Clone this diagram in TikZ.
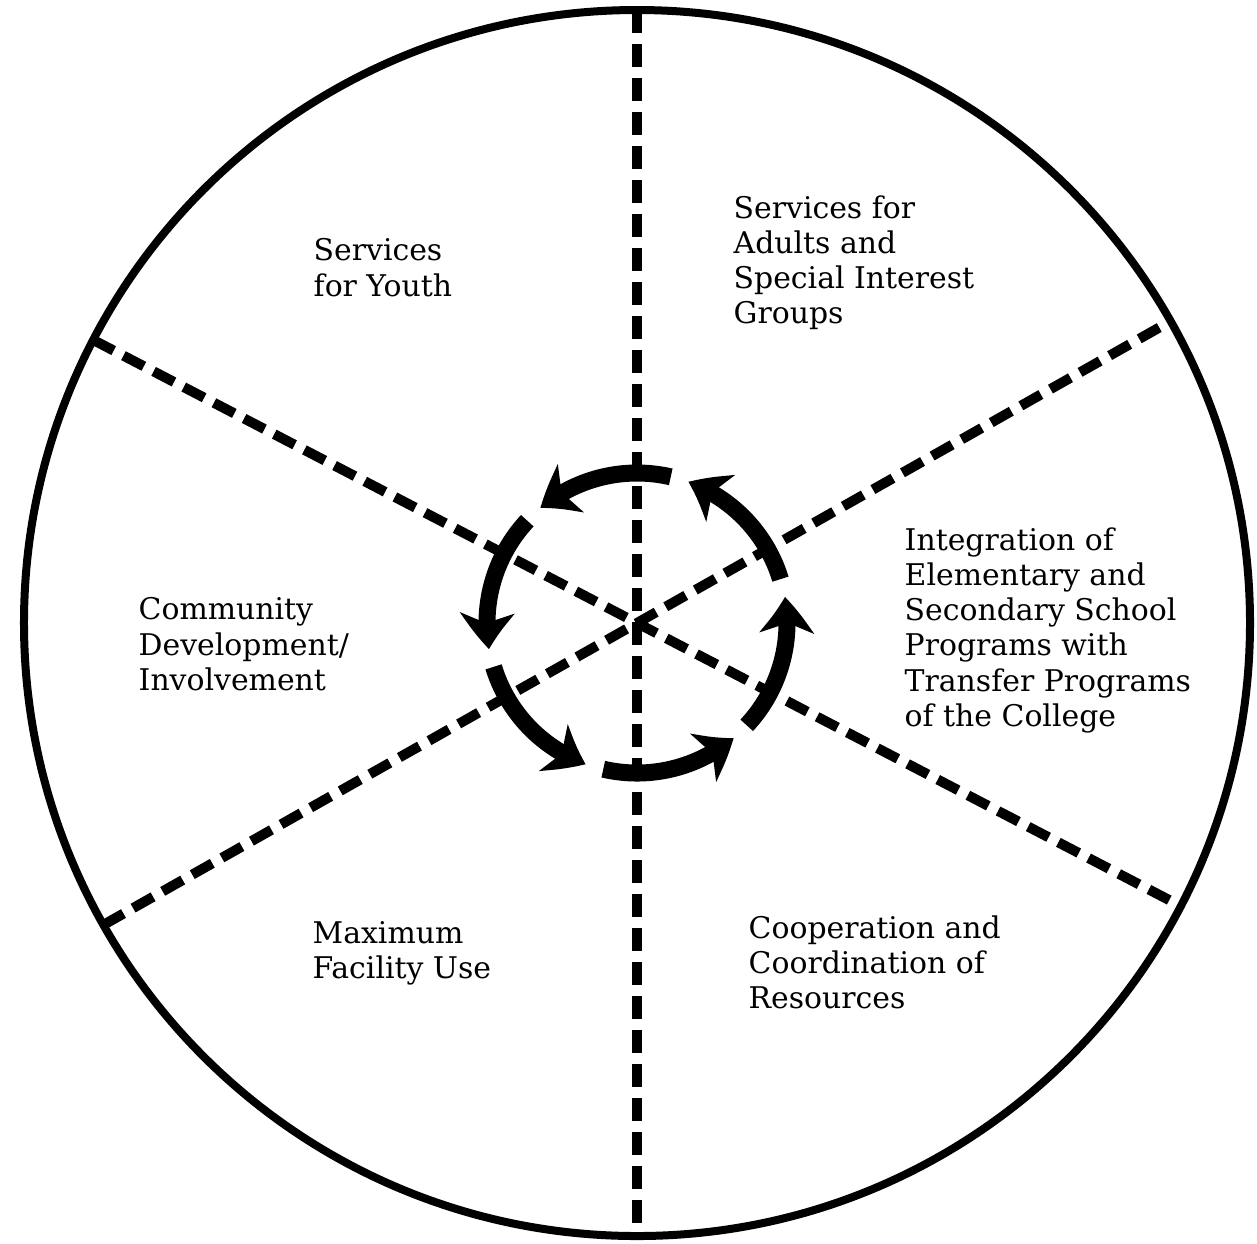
\documentclass[tikz,border=0pt]{standalone}
\usepackage{fontspec}
\setmainfont{DejaVu Serif}
\usetikzlibrary{arrows.meta,bending}

\begin{document}
\begin{tikzpicture}[x=1cm, y=1cm,
  rim/.style={line width=0.8mm},
  divider/.style={line width=1mm, dash pattern=on 2.3mm off 1.1mm},
  cyclearrow/.style={line width=1.7mm, -{Stealth[length=3.6mm,width=5.4mm,inset=1mm,bend]}},
  sector/.style={anchor=north west, align=left, inner sep=0pt,
    font=\fontsize{8.5pt}{10pt}\selectfont}]
  \useasboundingbox (-6.37,-6.20) rectangle (6.20,6.23);
  \coordinate (hub) at (0,0);
  % outer circle
  \draw[rim] (hub) circle[radius=6.13];
  % rim points for the dividers
  \foreach \a/\n in {90/top,270/bot,152.5/nw,-27.5/se,29.5/ne,209.5/sw}
    \coordinate (\n) at (\a:6.13);
  \draw[divider] (top) -- (bot);
  \draw[divider] (nw) -- (se);
  \draw[divider] (sw) -- (ne);
  % ring of arrows round the hub
  \foreach \s in {17,77,...,317}
    \draw[cyclearrow] ([shift={(\s:1.5)}]hub) arc[start angle=\s, delta angle=53, radius=1.5];
  % sector labels
  \node[sector] (youth) at (-3.24,3.85) {Services\\for Youth};
  \node[sector] (adults) at (0.96,4.28) {Services for\\Adults and\\Special Interest\\Groups};
  \node[sector] (integr) at (2.67,0.96) {Integration of\\Elementary and\\Secondary School\\Programs with\\Transfer Programs\\of the College};
  \node[sector] (commun) at (-4.99,0.26) {Community\\Development/\\Involvement};
  \node[sector] (facility) at (-3.25,-2.98) {Maximum\\Facility Use};
  \node[sector] (coop) at (1.11,-2.92) {Cooperation and\\Coordination of\\Resources};
\end{tikzpicture}
\end{document}
